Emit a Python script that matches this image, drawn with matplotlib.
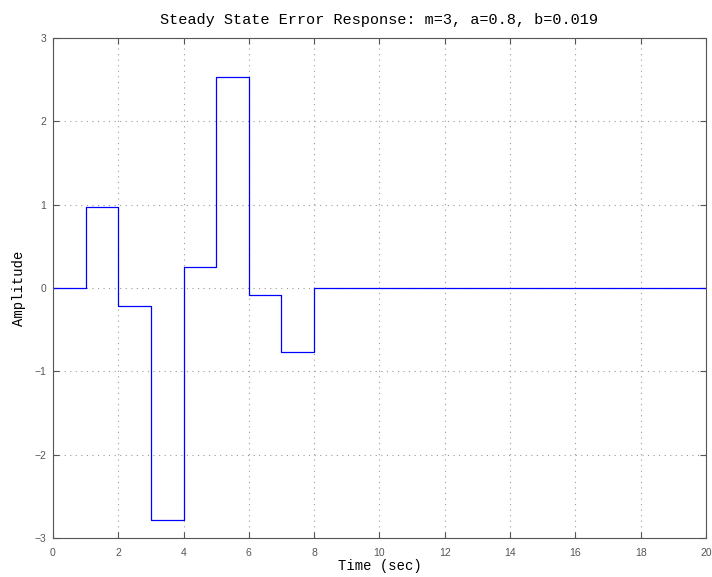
import numpy as np
import matplotlib
matplotlib.use('Agg')
import matplotlib.pyplot as plt

# step levels held over each 1 s interval, starting at t = 0
t = np.arange(0, 21)
err = [0, 0.97, -0.22, -2.79, 0.25, 2.53, -0.08, -0.77] + [0] * 13

xticks = np.arange(0, 21, 2)
yticks = np.arange(-3, 4, 1)

fig = plt.figure(figsize=(7.12, 5.77), dpi=100)
ax = fig.add_axes([0.0744, 0.0676, 0.917, 0.8665])

ax.step(t, err, where='post', color='#0000ff', lw=0.9)

ax.set_xlim(0, 20)
ax.set_ylim(-3, 3)
ax.set_xticks(xticks)
ax.set_yticks(yticks)
ax.set_yticklabels(['\u22123', '\u22122', '\u22121', '0', '1', '2', '3'])

ax.grid(True, linestyle=(0, (1, 4)), color='#999999', lw=0.8)
ax.tick_params(direction='in', length=4, width=0.8, colors='#555555',
               labelsize=7.5, top=True, right=True, pad=5)
ax.tick_params(axis='x', pad=7)
for s in ax.spines.values():
    s.set_color('#555555')
    s.set_linewidth(0.8)
for lab in ax.get_xticklabels() + ax.get_yticklabels():
    lab.set_family('Liberation Sans')

ax.set_title('Steady State Error Response: m=3, a=0.8, b=0.019',
             family='Liberation Mono', fontsize=11, pad=10)
ax.set_xlabel('Time (sec)', family='Liberation Mono', fontsize=10, labelpad=1)
ax.set_ylabel('Amplitude', family='Liberation Mono', fontsize=10, labelpad=6)

fig.savefig('out.png', dpi=100)
